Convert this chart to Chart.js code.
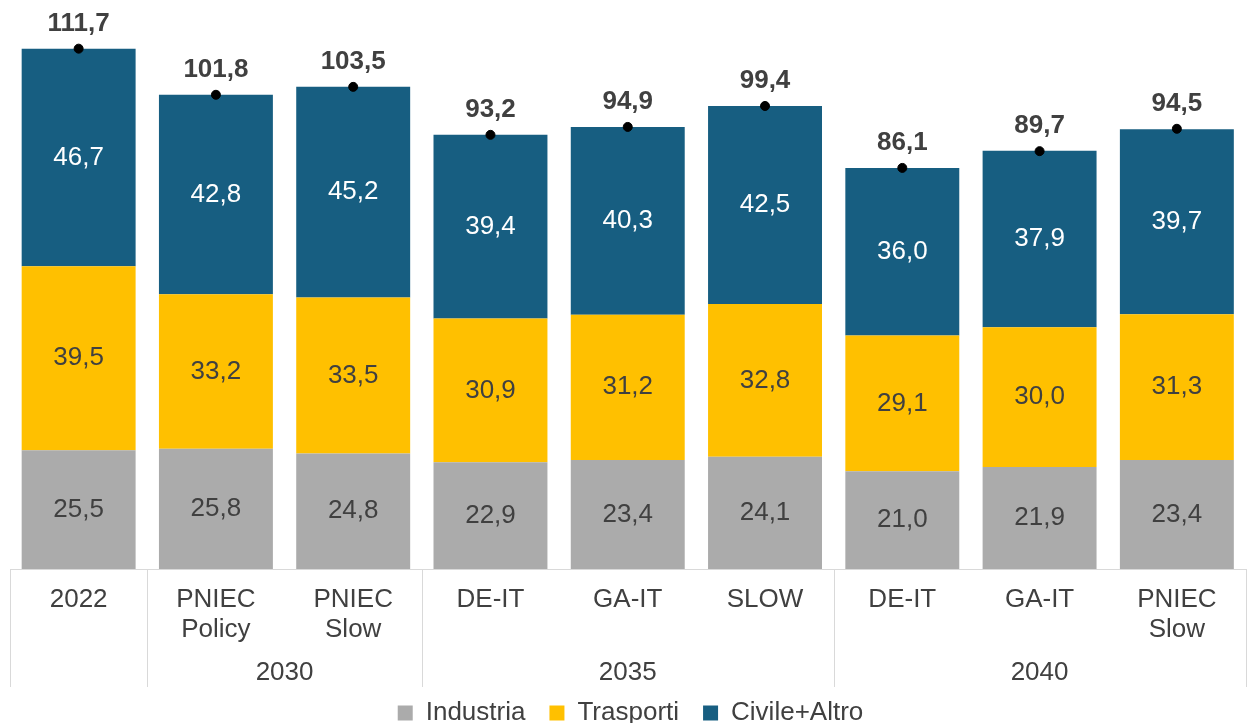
<!DOCTYPE html>
<html>
<head>
<meta charset="utf-8">
<script src="https://cdn.jsdelivr.net/npm/chart.js@4"></script>
<style>
  html, body { margin: 0; padding: 0; background: #fff; overflow: hidden; }
  #wrap { width: 1251px; height: 723px; position: relative; }
</style>
</head>
<body>
<div id="wrap"><canvas id="chart"></canvas></div>
<script>
const categories = [["2022"], ["PNIEC", "Policy"], ["PNIEC", "Slow"], ["DE-IT"], ["GA-IT"], ["SLOW"], ["DE-IT"], ["GA-IT"], ["PNIEC", "Slow"]];
const groupLabels = ["", "2030", "2035", "2040"];
const groupStart = [0, 1, 3, 6];
const groupEnd = [0, 2, 5, 8];

const industria = [25.5, 25.8, 24.8, 22.9, 23.4, 24.1, 21.0, 21.9, 23.4];
const trasporti = [39.5, 33.2, 33.5, 30.9, 31.2, 32.8, 29.1, 30.0, 31.3];
const civile = [46.7, 42.8, 45.2, 39.4, 40.3, 42.5, 36.0, 37.9, 39.7];
const totali = [111.7, 101.8, 103.5, 93.2, 94.9, 99.4, 86.1, 89.7, 94.5];

const FONT = "'Liberation Sans', Arial, sans-serif";
const fmt = v => v.toFixed(1).replace(".", ",");

// etichette dei valori e totali
const labelsPlugin = {
  id: "labels",
  afterDatasetsDraw(chart) {
    const ctx = chart.ctx;
    ctx.save();
    ctx.textAlign = "center";
    ctx.textBaseline = "middle";
    chart.data.datasets.forEach((ds, di) => {
      const meta = chart.getDatasetMeta(di);
      meta.data.forEach((el, i) => {
        if (ds.type === "line") {
          ctx.font = "bold 26px " + FONT;
          ctx.fillStyle = "#404040";
          ctx.fillText(fmt(ds.data[i]), el.x, el.y - 25);
        } else {
          ctx.font = "26px " + FONT;
          ctx.fillStyle = ds.labelColor;
          ctx.fillText(fmt(ds.data[i]), el.x, (el.y + el.base) / 2);
        }
      });
    });
    ctx.restore();
  },
  afterDraw(chart) {
    const ctx = chart.ctx;
    const xs = chart.scales.x;
    const top = chart.chartArea.bottom;
    const bottom = top + 118;
    const edge = i => {
      if (i < 0) return xs.left;
      if (i >= categories.length - 1) return xs.right;
      return (xs.getPixelForValue(i) + xs.getPixelForValue(i + 1)) / 2;
    };
    ctx.save();
    ctx.strokeStyle = "#d9d9d9";
    ctx.lineWidth = 1;
    const cuts = [-1].concat(groupEnd);
    cuts.forEach(c => {
      const x = Math.round(edge(c)) + 0.5;
      ctx.beginPath();
      ctx.moveTo(x, top);
      ctx.lineTo(x, bottom);
      ctx.stroke();
    });
    ctx.font = "26px " + FONT;
    ctx.fillStyle = "#404040";
    ctx.textAlign = "center";
    ctx.textBaseline = "middle";
    groupLabels.forEach((g, k) => {
      if (!g) return;
      const x = (xs.getPixelForValue(groupStart[k]) + xs.getPixelForValue(groupEnd[k])) / 2;
      ctx.fillText(g, x, top + 104);
    });
    ctx.restore();
  }
};

new Chart(document.getElementById("chart"), {
  type: "bar",
  data: {
    labels: categories,
    datasets: [
      { label: "Industria", data: industria, backgroundColor: "#ABABAB", labelColor: "#404040", order: 1 },
      { label: "Trasporti", data: trasporti, backgroundColor: "#FFC000", labelColor: "#404040", order: 1 },
      { label: "Civile+Altro", data: civile, backgroundColor: "#175E81", labelColor: "#ffffff", order: 1 },
      {
        type: "line", label: "Totale", data: totali, showLine: false,
        pointRadius: 4.5, pointBackgroundColor: "#000", pointBorderColor: "#000", order: 0
      }
    ]
  },
  options: {
    responsive: true,
    maintainAspectRatio: false,
    animation: false,
    events: [],
    layout: { padding: { top: 10, left: 10, right: 0, bottom: -13 } },
    datasets: { bar: { categoryPercentage: 1, barPercentage: 0.83 } },
    scales: {
      x: {
        stacked: true,
        grid: { display: false },
        border: { display: true, color: "#d9d9d9" },
        ticks: {
          color: "#404040", font: { family: FONT, size: 26, lineHeight: 1.15 },
          padding: 8, maxRotation: 0, autoSkip: false
        },
        afterFit(scale) { scale.height = 107; }
      },
      y: { stacked: true, display: false, min: 0, max: 120 }
    },
    plugins: {
      legend: {
        position: "bottom",
        labels: {
          filter: item => item.text !== "Totale",
          boxWidth: 15, boxHeight: 15, padding: 24,
          color: "#404040", font: { family: FONT, size: 26 }
        }
      },
      tooltip: { enabled: false }
    }
  },
  plugins: [labelsPlugin]
});
</script>
</body>
</html>
